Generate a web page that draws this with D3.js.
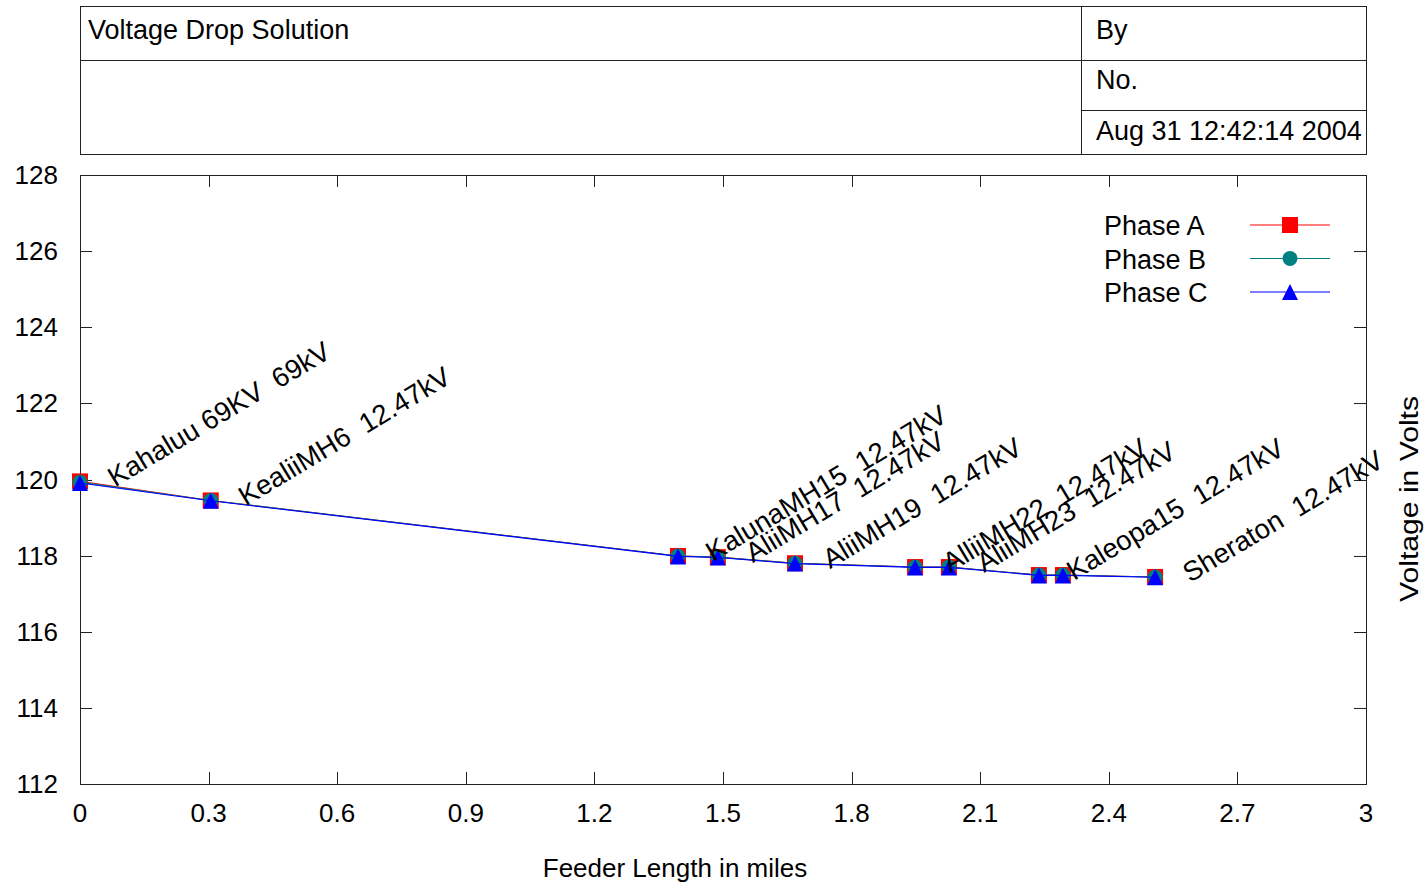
<!DOCTYPE html>
<html>
<head>
<meta charset="utf-8">
<script src="https://cdn.jsdelivr.net/npm/d3@7"></script>
<style>
  body { margin: 0; background: #fff; }
  svg { display: block; font-family: "Liberation Sans", Arial, sans-serif; }
  text { white-space: pre; }
</style>
</head>
<body>
<svg id="chart" width="1427" height="885"></svg>
<script>
// feeder points (miles) and phase voltages
const xMiles = [0, 0.305, 1.395, 1.488, 1.668, 1.948, 2.027, 2.237, 2.293, 2.508];
const phaseA = [119.95, 119.45, 117.99, 117.96, 117.80, 117.70, 117.70, 117.49, 117.49, 117.44];
const phaseB = [119.93, 119.45, 117.99, 117.96, 117.80, 117.70, 117.70, 117.49, 117.49, 117.44];
const phaseC = [119.91, 119.44, 117.98, 117.95, 117.79, 117.69, 117.69, 117.48, 117.48, 117.43];
const pointLabels = [
  "Kahaluu 69KV  69kV", "KealiiMH6  12.47kV", "KalunaMH15  12.47kV",
  "AliiMH17  12.47kV", "AliiMH19  12.47kV", "AlliiMH22  12.47kV",
  "AliiMH23  12.47kV", "Kaleopa15  12.47kV", "", "Sheraton  12.47kV"
];
const xTicks = [0, 0.3, 0.6, 0.9, 1.2, 1.5, 1.8, 2.1, 2.4, 2.7, 3];
const yTicks = [112, 114, 116, 118, 120, 122, 124, 126, 128];
const seriesNames = ["Phase A", "Phase B", "Phase C"];

const colors = ["#ff0000", "#008080", "#0000ff"];
const fs = 26;

const svg = d3.select("#chart");
const pLeft = 80, pRight = 1366, pTop = 175, pBottom = 784;

const x = d3.scaleLinear().domain([0, 3]).range([pLeft, pRight]);
const y = d3.scaleLinear().domain([112, 128]).range([pBottom, pTop]);

// header box
const hdr = svg.append("g").attr("stroke", "#222").attr("stroke-width", 1).attr("fill", "none");
hdr.append("rect").attr("x", 80.5).attr("y", 6.5).attr("width", 1286).attr("height", 148);
hdr.append("line").attr("x1", 80).attr("x2", 1366).attr("y1", 60.5).attr("y2", 60.5);
hdr.append("line").attr("x1", 1081.5).attr("x2", 1081.5).attr("y1", 6).attr("y2", 154);
hdr.append("line").attr("x1", 1081).attr("x2", 1366).attr("y1", 110.5).attr("y2", 110.5);

const hdrText = [
  ["Voltage Drop Solution", 88, 39],
  ["By", 1096, 39],
  ["No.", 1096, 89],
  ["Aug 31 12:42:14 2004", 1096, 140]
];
svg.selectAll("text.hdr").data(hdrText).enter().append("text")
  .attr("class", "hdr")
  .attr("x", d => d[1]).attr("y", d => d[2])
  .attr("font-size", 27).attr("fill", "#000")
  .text(d => d[0]);

// plot frame
svg.append("rect")
  .attr("x", pLeft + 0.5).attr("y", pTop + 0.5)
  .attr("width", pRight - pLeft).attr("height", pBottom - pTop)
  .attr("fill", "none").attr("stroke", "#222");

// ticks pointing inward on all four sides
const tickLen = 12;
const tk = svg.append("g").attr("stroke", "#222");
xTicks.forEach(t => {
  const px = Math.round(x(t)) + 0.5;
  tk.append("line").attr("x1", px).attr("x2", px).attr("y1", pBottom).attr("y2", pBottom - tickLen);
  tk.append("line").attr("x1", px).attr("x2", px).attr("y1", pTop).attr("y2", pTop + tickLen);
});
yTicks.forEach(t => {
  const py = Math.round(y(t)) + 0.5;
  tk.append("line").attr("x1", pLeft).attr("x2", pLeft + tickLen).attr("y1", py).attr("y2", py);
  tk.append("line").attr("x1", pRight).attr("x2", pRight - tickLen).attr("y1", py).attr("y2", py);
});

svg.selectAll("text.xt").data(xTicks).enter().append("text")
  .attr("class", "xt")
  .attr("x", d => x(d)).attr("y", 822)
  .attr("text-anchor", "middle").attr("font-size", fs)
  .text(d => d);

svg.selectAll("text.yt").data(yTicks).enter().append("text")
  .attr("class", "yt")
  .attr("x", 58).attr("y", d => y(d) + 9)
  .attr("text-anchor", "end").attr("font-size", fs)
  .text(d => d);

// axis titles
svg.append("text")
  .attr("x", 675).attr("y", 877)
  .attr("text-anchor", "middle").attr("font-size", fs)
  .text("Feeder Length in miles");
// the vertical title is drawn stretched along its length in the original
svg.append("text")
  .attr("transform", "translate(1418,499) rotate(-90)")
  .attr("text-anchor", "middle").attr("font-size", fs)
  .attr("textLength", 206).attr("lengthAdjust", "spacingAndGlyphs")
  .text("Voltage in Volts");

// markers: square / circle / triangle all in a 16px box
const half = 8;
function markerPath(i) {
  const p = d3.path();
  if (i == 0) {
    p.rect(-half, -half, half * 2, half * 2);
  } else if (i == 1) {
    p.arc(0, 0, 7.5, 0, 2 * Math.PI);
  } else {
    p.moveTo(0, -half);
    p.lineTo(half, half);
    p.lineTo(-half, half);
    p.closePath();
  }
  return p.toString();
}

// series
const series = [phaseA, phaseB, phaseC].map((vals, i) => ({
  name: seriesNames[i], color: colors[i],
  points: vals.map((v, j) => ({ x: xMiles[j], v: v }))
}));

const line = d3.line().x(d => x(d.x)).y(d => y(d.v));

series.forEach((s, i) => {
  const g = svg.append("g");
  g.append("path")
    .attr("d", line(s.points))
    .attr("fill", "none").attr("stroke", s.color).attr("stroke-width", 1.1);
  g.selectAll("path.mk").data(s.points).enter().append("path")
    .attr("class", "mk")
    .attr("transform", d => `translate(${x(d.x)},${y(d.v)})`)
    .attr("d", markerPath(i))
    .attr("fill", s.color);
});

// point labels
svg.selectAll("text.pl").data(pointLabels).enter().append("text")
  .attr("class", "pl")
  .attr("transform", (d, i) => `translate(${x(xMiles[i]) + 35},${y(phaseA[i]) + 6}) rotate(-31)`)
  .attr("font-size", 27.5).attr("fill", "#000")
  .text(d => d);

// legend
const leg = svg.append("g");
series.forEach((s, i) => {
  const ly = 225 + i * 33.5;
  leg.append("text")
    .attr("x", 1104).attr("y", ly + 10)
    .attr("font-size", 27).text(s.name);
  leg.append("line")
    .attr("x1", 1250).attr("x2", 1330).attr("y1", ly).attr("y2", ly)
    .attr("stroke", s.color).attr("stroke-width", 1.1);
  leg.append("path")
    .attr("transform", `translate(1290,${ly})`)
    .attr("d", markerPath(i))
    .attr("fill", s.color);
});
</script>
</body>
</html>
